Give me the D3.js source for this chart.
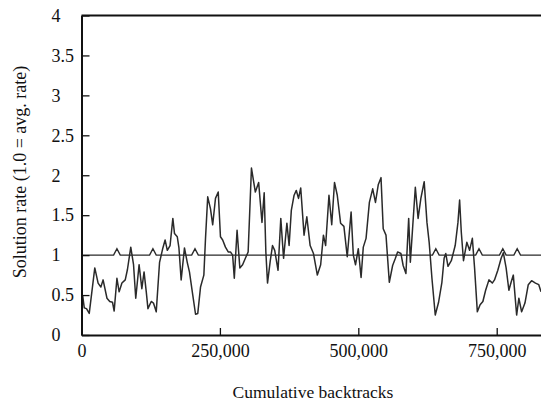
<!DOCTYPE html>
<html>
<head>
<meta charset="utf-8">
<script src="https://cdn.jsdelivr.net/npm/d3@7"></script>
<style>
  body { margin: 0; background: #fff; }
  svg { display: block; }
</style>
</head>
<body>
<svg width="541" height="404"></svg>
<script>
// noisy solution-rate series (x = cumulative backtracks, v = rate)
const rateX = [2000, 5000, 9000, 14000, 24000, 30000, 35000, 39000, 46000, 51000, 56000, 59000,
  64000, 68000, 73000, 79000, 83000, 89000, 94000, 98000, 104000, 109000, 113000, 117000,
  120000, 126000, 130000, 135000, 141000, 147000, 151000, 155000, 160000, 165000, 168000,
  173000, 176000, 180000, 186000, 191000, 195000, 201000, 206000, 210000, 215000, 221000,
  224000, 228000, 233000, 237000, 242000, 247000, 251000, 255000, 260000, 265000, 269000,
  273000, 276000, 281000, 286000, 291000, 296000, 301000, 307000, 314000, 320000, 326000,
  330000, 333000, 336000, 341000, 345000, 349000, 355000, 360000, 365000, 371000, 375000,
  379000, 384000, 388000, 392000, 396000, 402000, 407000, 413000, 419000, 426000, 432000,
  437000, 441000, 447000, 452000, 457000, 462000, 468000, 474000, 480000, 487000, 491000,
  495000, 500000, 505000, 509000, 514000, 520000, 526000, 531000, 536000, 541000, 545000,
  550000, 556000, 562000, 567000, 571000, 577000, 581000, 586000, 591000, 594000, 598000,
  603000, 608000, 613000, 619000, 624000, 628000, 633000, 639000, 645000, 651000, 655000,
  658000, 662000, 668000, 675000, 680000, 683000, 686000, 690000, 696000, 701000, 706000,
  710000, 715000, 720000, 725000, 730000, 736000, 742000, 746000, 752000, 758000, 762000,
  767000, 772000, 776000, 780000, 786000, 790000, 795000, 801000, 807000, 813000, 820000,
  826000, 830000];
const rateV = [0.50, 0.34, 0.33, 0.27, 0.84, 0.65, 0.60, 0.69, 0.46, 0.42, 0.41, 0.30,
  0.71, 0.54, 0.65, 0.69, 0.82, 1.10, 0.88, 0.46, 0.88, 0.58, 0.79, 0.54,
  0.33, 0.42, 0.40, 0.29, 0.91, 1.09, 1.19, 1.06, 1.12, 1.46, 1.27,
  1.23, 1.09, 0.69, 1.09, 0.91, 0.79, 0.50, 0.26, 0.27, 0.60, 0.75,
  1.21, 1.73, 1.58, 1.38, 1.71, 1.79, 1.23, 1.19, 1.10, 1.04, 1.04,
  1.00, 0.71, 1.31, 0.84, 0.88, 0.96, 1.04, 2.09, 1.79, 1.91, 1.41,
  1.78, 1.04, 0.65, 0.93, 1.12, 1.06, 0.81, 1.46, 0.96, 1.40, 1.12,
  1.56, 1.75, 1.81, 1.71, 1.84, 1.25, 1.48, 1.12, 1.02, 0.75, 0.88,
  1.25, 1.12, 1.75, 1.38, 1.91, 1.75, 1.40, 1.36, 0.98, 1.54, 1.00,
  0.88, 1.08, 0.72, 1.10, 1.21, 1.66, 1.83, 1.66, 1.88, 1.97, 1.33,
  1.25, 0.66, 0.87, 0.96, 1.04, 1.02, 0.87, 0.77, 1.46, 0.91, 1.33,
  1.85, 1.46, 1.71, 1.92, 1.41, 1.16, 0.71, 0.25, 0.41, 0.66, 0.96,
  1.02, 0.86, 0.93, 1.12, 1.41, 1.69, 1.29, 0.93, 1.16, 1.06, 1.21,
  0.84, 0.29, 0.38, 0.42, 0.56, 0.69, 0.65, 0.69, 0.81, 0.96, 1.03,
  0.84, 0.56, 0.66, 0.75, 0.25, 0.46, 0.29, 0.40, 0.63, 0.68, 0.65,
  0.63, 0.54];

// reference series, flat at 1.0 with a few small bumps
const baseX = [0, 58000, 64000, 70000, 123000, 129000, 135000, 199000, 205000, 211000,
  634000, 640000, 646000, 712000, 718000, 724000, 755000, 761000, 767000,
  781000, 787000, 793000, 830000];
const baseV = [1, 1, 1.08, 1, 1, 1.08, 1, 1, 1.08, 1,
  1, 1.08, 1, 1, 1.08, 1, 1, 1.08, 1,
  1, 1.08, 1, 1];

const xTicks = [0, 250000, 500000, 750000];
const yTicks = [0, 0.5, 1, 1.5, 2, 2.5, 3, 3.5, 4];

const svg = d3.select("svg");
const font = "'Liberation Serif', 'Times New Roman', serif";

const x = d3.scaleLinear().domain([0, 830000]).range([81.5, 541]);
const y = d3.scaleLinear().domain([0, 4]).range([335, 15.5]);

const line = d3.line().x((d) => x(d[0])).y((d) => y(d[1]));

// data lines
svg.append("path")
  .datum(d3.zip(baseX, baseV))
  .attr("d", line)
  .attr("fill", "none")
  .attr("stroke", "#2a2a2a")
  .attr("stroke-width", 1.4);

svg.append("path")
  .datum(d3.zip(rateX, rateV))
  .attr("d", line)
  .attr("fill", "none")
  .attr("stroke", "#2a2a2a")
  .attr("stroke-width", 1.5)
  .attr("stroke-linejoin", "round");

// top frame line
svg.append("line")
  .attr("x1", x(0)).attr("x2", 541)
  .attr("y1", y(4)).attr("y2", y(4))
  .attr("stroke", "#111").attr("stroke-width", 2);

// y axis, ticks pointing inward
const yAxis = svg.append("g")
  .attr("transform", `translate(${x(0)},0)`)
  .call(d3.axisLeft(y).tickValues(yTicks).tickSize(-8).tickSizeOuter(0).tickFormat((d) => d));
yAxis.select(".domain").attr("stroke", "#111").attr("stroke-width", 2);
yAxis.selectAll(".tick line").attr("stroke", "#111").attr("stroke-width", 1.3);
yAxis.selectAll(".tick text")
  .attr("x", -30)
  .attr("text-anchor", "start")
  .attr("fill", "#111")
  .style("font-family", font)
  .style("font-size", "18px");

// x axis, ticks pointing up
const xAxis = svg.append("g")
  .attr("transform", `translate(0,${y(0)})`)
  .call(d3.axisBottom(x).tickValues(xTicks).tickSize(-7).tickSizeOuter(0).tickFormat(d3.format(",")));
xAxis.select(".domain").attr("stroke", "#111").attr("stroke-width", 2);
xAxis.selectAll(".tick line").attr("stroke", "#111").attr("stroke-width", 1.3);
xAxis.selectAll(".tick text")
  .attr("y", 9)
  .attr("fill", "#111")
  .style("font-family", font)
  .style("font-size", "18px");

// axis titles
svg.append("text")
  .attr("x", 313).attr("y", 398)
  .attr("text-anchor", "middle")
  .attr("fill", "#111")
  .style("font-family", font)
  .style("font-size", "17.5px")
  .text("Cumulative backtracks");

svg.append("text")
  .attr("transform", "translate(26,172) rotate(-90)")
  .attr("text-anchor", "middle")
  .attr("fill", "#111")
  .style("font-family", font)
  .style("font-size", "18px")
  .text("Solution rate (1.0 = avg. rate)");
</script>
</body>
</html>
